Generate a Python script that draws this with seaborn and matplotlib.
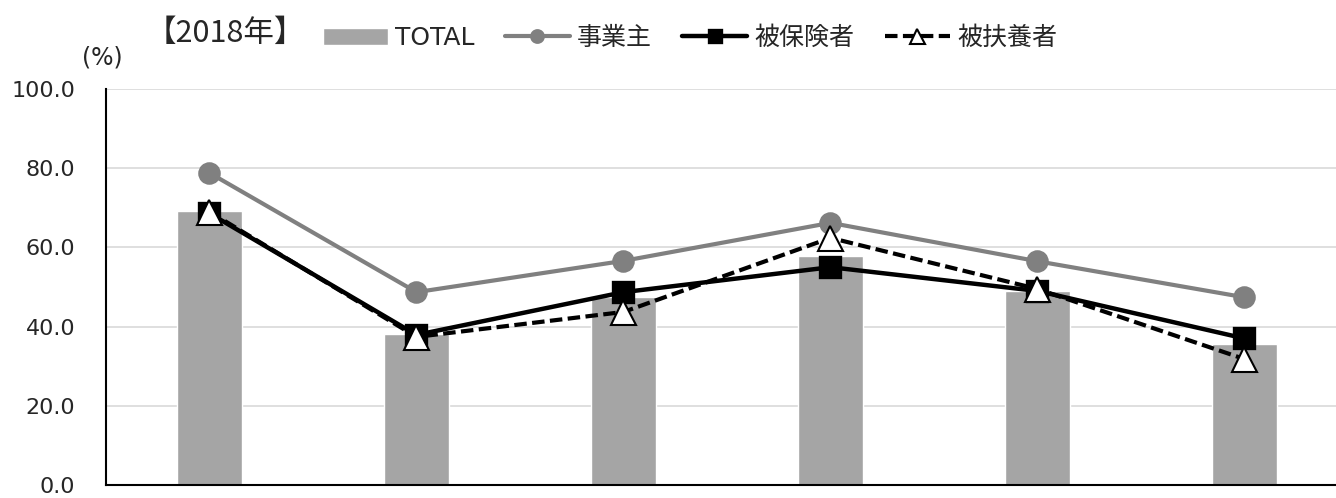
import matplotlib
matplotlib.use('Agg')
import matplotlib.pyplot as plt
import seaborn as sns
import pandas as pd

# values (%)
categories = ['1', '2', '3', '4', '5', '6']
total = [69.1, 38.2, 47.5, 57.8, 49.1, 35.7]
jigyonushi = [78.8, 48.7, 56.6, 66.2, 56.5, 47.4]
hihokensha = [68.6, 37.9, 48.7, 55.0, 49.0, 37.0]
hifuyosha = [69.0, 37.4, 43.7, 62.4, 49.5, 31.8]
yticks = [0, 20, 40, 60, 80, 100]

sns.set_style('white')
plt.rcParams['font.family'] = ['DejaVu Sans', 'Noto Sans CJK JP']

df = pd.DataFrame({'cat': categories, 'total': total, 'jig': jigyonushi,
                   'hih': hihokensha, 'hif': hifuyosha})

fig = plt.figure(figsize=(13.36, 4.98), dpi=100)
ax = fig.add_axes([106 / 1336, 13 / 498, 1242 / 1336, 396 / 498])

sns.barplot(data=df, x='cat', y='total', color='#A5A5A5', saturation=1,
            width=0.31, ax=ax, label='TOTAL', zorder=2)
sns.pointplot(data=df, x='cat', y='jig', color='#808080', errorbar=None,
              marker='o', markersize=14, linewidth=3, ax=ax, label='事業主', zorder=3)
sns.pointplot(data=df, x='cat', y='hih', color='black', errorbar=None,
              marker='s', markersize=14, linewidth=3.2, ax=ax, label='被保険者', zorder=4)
sns.pointplot(data=df, x='cat', y='hif', color='black', errorbar=None,
              marker='^', markersize=18, linewidth=3, linestyle='--',
              markerfacecolor='white', markeredgecolor='black', markeredgewidth=1.5,
              ax=ax, label='被扶養者', zorder=5)
ax.lines[-1].set_dashes([3, 1.3])
if ax.get_legend() is not None:
    ax.get_legend().remove()

ax.set_ylim(0, 100)
ax.set_xlim(-0.5, 5.5)
ax.set_yticks(yticks)
ax.set_yticklabels([f'{v:.1f}' for v in yticks], fontsize=16)
ax.set_xticks([0.5, 1.5, 2.5, 3.5, 4.5])
ax.set_xticklabels([])
ax.set_xlabel('')
ax.set_ylabel('')
ax.grid(axis='y', color='#D9D9D9', linewidth=1.2, zorder=0)
ax.set_axisbelow(True)
for s in ['top', 'right']:
    ax.spines[s].set_visible(False)
ax.spines['left'].set_color('black')
ax.spines['left'].set_linewidth(1.5)
ax.spines['bottom'].set_color('black')
ax.spines['bottom'].set_linewidth(1.5)
ax.tick_params(axis='y', direction='out', length=7, width=1.3, color='black', pad=15)
ax.tick_params(axis='x', direction='in', length=7, width=1.3, color='black')

fig.text(82 / 1336, 1 - 58 / 498, '(%)', fontsize=17, va='center', ha='left')
fig.text(146 / 1336, 1 - 33 / 498, '【2018年】', fontsize=22, va='center', ha='left',
         family=['Noto Sans CJK JP', 'DejaVu Sans'])

h, l = ax.get_legend_handles_labels()
order = ['TOTAL', '事業主', '被保険者', '被扶養者']
hd = dict(zip(l, h))
leg = fig.legend([hd[k] for k in order], order, loc='center left',
                 bbox_to_anchor=(300 / 1336, 1 - 38 / 498), ncol=4, frameon=False,
                 handlelength=2.6, handletextpad=0.3, columnspacing=1.2,
                 markerscale=0.6,
                 prop={'family': ['DejaVu Sans', 'Noto Sans CJK JP'], 'size': 18})

fig.savefig('out.png', dpi=100)
